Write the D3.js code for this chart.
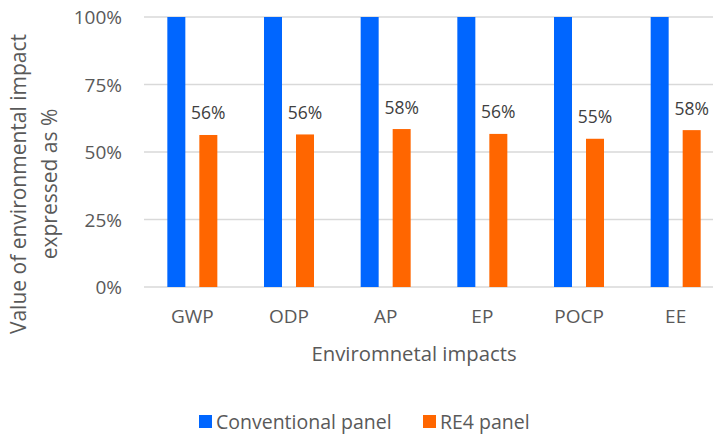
<!DOCTYPE html>
<html>
<head>
<meta charset="utf-8">
<script src="https://cdn.jsdelivr.net/npm/d3@7"></script>
<style>
  html, body { margin: 0; padding: 0; background: #fff; }
  svg { display: block; font-family: "Open Sans", "Noto Sans", sans-serif; }
</style>
</head>
<body>
<svg id="chart" width="713" height="434"></svg>
<script>
// Impact categories on the x axis
const categories = ["GWP", "ODP", "AP", "EP", "POCP", "EE"];
// Series names (legend order)
const seriesNames = ["Conventional panel", "RE4 panel"];
// Impact relative to the conventional panel (1 = 100%)
const conventionalValues = [1, 1, 1, 1, 1, 1];
const re4Values = [0.563, 0.565, 0.585, 0.567, 0.549, 0.581];
// Printed labels on the RE4 bars
const re4Labels = ["56%", "56%", "58%", "56%", "55%", "58%"];
// Y axis ticks
const yTicks = [0, 0.25, 0.5, 0.75, 1];

const colors = { "Conventional panel": "#0066ff", "RE4 panel": "#ff6600" };
const textColor = "#595959";

const svg = d3.select("#chart");

const plot = { left: 144, right: 724, top: 17, bottom: 287 };

const x = d3.scaleBand().domain(categories).range([plot.left, plot.right]).padding(0);
const xSeries = d3.scaleBand().domain(seriesNames).range([0, x.bandwidth()])
  .paddingInner(0.4375).paddingOuter(0.729);
const y = d3.scaleLinear().domain([0, 1]).range([plot.bottom, plot.top]);

// Horizontal gridlines
svg.append("g").selectAll("line").data(yTicks).join("line")
  .attr("x1", plot.left).attr("x2", plot.right)
  .attr("y1", d => y(d)).attr("y2", d => y(d))
  .attr("stroke", "#d9d9d9").attr("stroke-width", 1.3);

// Y tick labels
const yAxis = d3.axisLeft(y).tickValues(yTicks).tickFormat(d3.format(".0%")).tickSize(0).tickPadding(0);
const yg = svg.append("g").attr("transform", `translate(${plot.left - 22},0)`).call(yAxis);
yg.select(".domain").remove();
yg.selectAll("text").attr("fill", textColor).style("font-size", "19px")
  .style("font-family", "'Open Sans', sans-serif").attr("dy", "0.35em");

// Bars
const rows = categories.map((c, i) => ({
  cat: c,
  values: [
    { s: seriesNames[0], v: conventionalValues[i] },
    { s: seriesNames[1], v: re4Values[i], label: re4Labels[i] }
  ]
}));

const groups = svg.append("g").selectAll("g").data(rows).join("g")
  .attr("transform", d => `translate(${x(d.cat)},0)`);

groups.selectAll("rect").data(d => d.values).join("rect")
  .attr("x", d => xSeries(d.s))
  .attr("width", xSeries.bandwidth())
  .attr("y", d => y(d.v))
  .attr("height", d => y(0) - y(d.v))
  .attr("fill", d => colors[d.s]);

// Value labels above RE4 bars
groups.selectAll("text.val").data(d => d.values.filter(v => v.label)).join("text")
  .attr("class", "val")
  .attr("x", d => xSeries(d.s) + xSeries.bandwidth() / 2)
  .attr("y", d => y(d.v) - 15.5)
  .attr("text-anchor", "middle")
  .attr("fill", "#404040")
  .style("font-size", "17.5px")
  .text(d => d.label);

// X category labels
const xAxis = d3.axisBottom(x).tickSize(0).tickPadding(0);
const xg = svg.append("g").attr("transform", `translate(0,${plot.bottom})`).call(xAxis);
xg.select(".domain").remove();
xg.selectAll("text").attr("fill", textColor).style("font-size", "19px")
  .style("font-family", "'Open Sans', sans-serif")
  .attr("dy", 0).attr("y", 36);

// X axis title
svg.append("text")
  .attr("x", 414).attr("y", 361)
  .attr("text-anchor", "middle")
  .attr("fill", textColor)
  .style("font-size", "20.3px")
  .text("Enviromnetal impacts");

// Y axis title (two lines, rotated)
const yTitle = svg.append("text")
  .attr("transform", "translate(0,184) rotate(-90)")
  .attr("text-anchor", "middle")
  .attr("fill", textColor)
  .style("font-size", "21px");
yTitle.append("tspan").attr("x", 0).attr("y", 26).text("Value of environmental impact");
yTitle.append("tspan").attr("x", 0).attr("y", 57).text("expressed as %");

// Legend
const legendItems = [
  { s: seriesNames[0], x: 199 },
  { s: seriesNames[1], x: 423 }
];
const lg = svg.append("g").selectAll("g").data(legendItems).join("g")
  .attr("transform", d => `translate(${d.x},415)`);
lg.append("rect").attr("width", 13).attr("height", 13).attr("fill", d => colors[d.s]);
lg.append("text").attr("x", 17).attr("y", 13.5)
  .attr("fill", textColor).style("font-size", "19.5px")
  .text(d => d.s);
</script>
</body>
</html>
